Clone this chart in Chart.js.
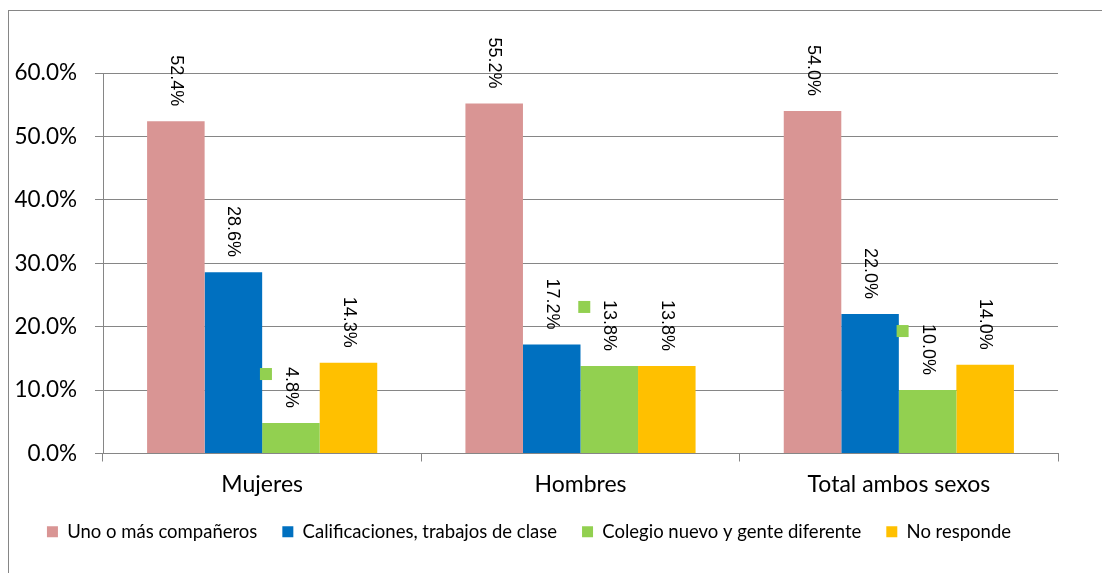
<!DOCTYPE html>
<html>
<head>
<meta charset="utf-8">
<script src="https://cdn.jsdelivr.net/npm/chart.js@4.4.0/dist/chart.umd.min.js"></script>
<style>
  html, body { margin: 0; padding: 0; background: #fff; }
  #wrap { position: relative; width: 1102px; height: 573px; }
</style>
</head>
<body>
<div id="wrap"><canvas id="c" width="1102" height="573"></canvas></div>
<script>
const categories = ['Mujeres', 'Hombres', 'Total ambos sexos'];
const seriesNames = ['Uno o más compañeros', 'Calificaciones, trabajos de clase', 'Colegio nuevo y gente diferente', 'No responde'];
const unoOMas = [0.524, 0.552, 0.540];
const calificaciones = [0.286, 0.172, 0.220];
const colegioNuevo = [0.048, 0.138, 0.100];
const noResponde = [0.143, 0.138, 0.140];
const yTicks = [0, 0.1, 0.2, 0.3, 0.4, 0.5, 0.6];
const colors = ['#D99594', '#0070C0', '#92D050', '#FFC000'];

const AXIS_FONT = "Lato, 'Open Sans', sans-serif";
const LABEL_FONT = "'Liberation Sans', Arial, sans-serif";

const fmt = v => (v * 100).toFixed(1) + '%';

const framePlugin = {
  id: 'frame',
  beforeDraw(chart) {
    const ctx = chart.ctx;
    ctx.save();
    ctx.fillStyle = '#fff';
    ctx.fillRect(0, 0, chart.width, chart.height);
    ctx.strokeStyle = '#868686';
    ctx.lineWidth = 1;
    ctx.strokeRect(8.5, 10.5, 1200, 700);
    ctx.restore();
  }
};

const labelPlugin = {
  id: 'vlabels',
  afterDatasetsDraw(chart) {
    const ctx = chart.ctx;
    ctx.save();
    ctx.font = "18px " + LABEL_FONT;
    ctx.fillStyle = '#000';
    chart.data.datasets.forEach((ds, di) => {
      const meta = chart.getDatasetMeta(di);
      meta.data.forEach((bar, i) => {
        const v = ds.data[i];
        const txt = fmt(v);
        const end = bar.y - 15;
        const w = ctx.measureText(txt).width;
        ctx.save();
        ctx.translate(bar.x, end);
        ctx.rotate(Math.PI / 2);
        ctx.textAlign = 'right';
        ctx.textBaseline = 'middle';
        ctx.fillText(txt, 0, 0);
        ctx.restore();
        if (di === 2) {
          ctx.fillStyle = colors[2];
          ctx.fillRect(bar.x - 31, end - w + 1, 12, 12);
          ctx.fillStyle = '#000';
        }
      });
    });
    ctx.restore();
  }
};

const data = {
  labels: categories,
  datasets: [
    { label: seriesNames[0], data: unoOMas, backgroundColor: colors[0] },
    { label: seriesNames[1], data: calificaciones, backgroundColor: colors[1] },
    { label: seriesNames[2], data: colegioNuevo, backgroundColor: colors[2] },
    { label: seriesNames[3], data: noResponde, backgroundColor: colors[3] }
  ]
};

new Chart(document.getElementById('c'), {
  type: 'bar',
  data,
  plugins: [framePlugin, labelPlugin],
  options: {
    responsive: false,
    animation: false,
    devicePixelRatio: 1,
    layout: { padding: { left: 0, right: 44, top: 73, bottom: 22 } },
    datasets: { bar: { barPercentage: 1.0, categoryPercentage: 0.723, borderWidth: 0 } },
    plugins: {
      legend: {
        position: 'bottom',
        labels: {
          boxWidth: 11, boxHeight: 11,
          color: '#000',
          padding: 25,
          font: { family: AXIS_FONT, size: 18.5 }
        }
      },
      tooltip: { enabled: false }
    },
    scales: {
      x: {
        grid: { display: true, drawOnChartArea: false, drawTicks: true, tickLength: 8, color: '#868686', offset: true },
        border: { display: true, color: '#868686', width: 1 },
        ticks: { color: '#000', font: { family: AXIS_FONT, size: 23 }, padding: 9 },
        afterFit(s) { s.height = 44; }
      },
      y: {
        min: 0, max: 0.6,
        afterBuildTicks(s) { s.ticks = yTicks.map(v => ({ value: v })); },
        grid: { color: '#868686', tickLength: 8, drawTicks: true },
        border: { display: true, color: '#868686', width: 1 },
        ticks: { color: '#000', font: { family: AXIS_FONT, size: 22.5 }, padding: 18, callback: v => fmt(v) },
        afterFit(s) { s.width = 103; }
      }
    }
  }
});
</script>
</body>
</html>
